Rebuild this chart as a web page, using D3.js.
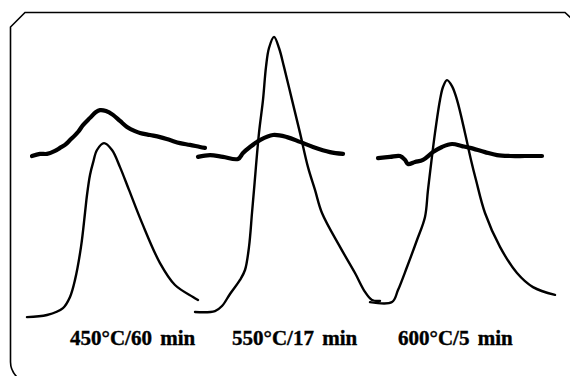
<!DOCTYPE html>
<html>
<head>
<meta charset="utf-8">
<script src="https://cdn.jsdelivr.net/npm/d3@7"></script>
<style>
  body { margin: 0; background: #fff; }
  .thin  { fill: none; stroke: #000; stroke-width: 2.4; stroke-linejoin: round; stroke-linecap: round; }
  .thick { fill: none; stroke: #000; stroke-width: 4.2; stroke-linejoin: round; stroke-linecap: round; }
  .label { font-family: "Liberation Serif", "DejaVu Serif", serif; font-weight: bold; font-size: 21px;
           word-spacing: 3px; stroke: #000; stroke-width: 0.4px; }
</style>
</head>
<body>
<div id="app"></div>
<script>
const width  = 570,
      height = 376;

/* 标签 */
const labels = ["450\u00b0C/60 min", "550\u00b0C/17 min", "600\u00b0C/5 min"],
      labelX = [14.0, 46.4, 79.6];

/* 细线: 峰 */
const thin450 = [[5.4,4.3],[9.4,5.0],[12.6,7.3],[14.0,11.0],[15.0,16.7],[16.2,27.7],[17.0,39.0],
  [17.4,45.0],[18.0,51.7],[18.6,55.7],[19.4,60.0],[20.8,62.3],[22.4,60.0],[24.0,54.3],[25.8,46.7],
  [28.4,35.7],[32.0,22.3],[35.0,15.0],[38.6,11.0],[39.6,10.0]];
const thin550 = [[39.0,6.0],[43.0,6.3],[44.4,8.0],[46.0,12.0],[48.0,16.7],[49.0,20.0],[49.8,27.7],
  [50.4,39.0],[50.8,46.7],[51.8,65.7],[52.6,76.7],[53.2,87.7],[53.8,94.0],[54.8,97.7],[55.8,94.0],
  [56.8,87.7],[58.4,76.7],[60.0,65.7],[61.6,54.3],[63.0,46.7],[64.4,39.0],[68.0,27.7],[71.0,19.0],
  [73.0,12.7],[74.4,10.0],[76.0,9.7]];
const thin600 = [[74.0,9.3],[78.4,9.3],[79.6,13.3],[81.4,21.0],[83.4,30.0],[85.0,37.7],[85.6,46.7],
  [87.0,65.7],[88.0,76.7],[88.6,81.0],[89.4,83.3],[90.4,81.3],[91.4,76.7],[93.0,65.7],[94.2,56.7],
  [95.2,50.0],[97.0,39.0],[100.0,27.7],[103.4,19.0],[106.6,14.3],[111.0,11.7]];

/* 粗线 */
const thick450 = [[6.4,58.0],[8.0,58.7],[9.4,58.7],[11.0,59.7],[12.0,60.7],[13.0,61.7],[14.0,63.3],
  [15.6,66.0],[16.6,68.3],[18.0,70.7],[19.2,72.7],[20.0,73.3],[21.2,73.0],[22.6,71.7],[24.0,69.7],
  [25.4,67.7],[27.0,66.3],[28.0,65.7],[30.0,65.0],[32.0,64.3],[34.0,63.3],[36.0,62.3],[38.0,61.7],
  [40.0,61.0],[41.0,60.7]];
const thick550 = [[39.6,57.7],[42.0,58.3],[44.6,57.7],[47.6,57.0],[48.6,59.0],[50.0,61.0],[52.0,63.3],
  [54.6,65.0],[57.4,64.3],[60.0,62.7],[62.6,61.0],[66.0,59.3],[68.6,58.7]];
const thick600 = [[75.6,57.3],[78.0,57.7],[80.0,58.0],[81.0,56.7],[81.6,55.3],[83.0,56.0],[84.6,56.7],
  [86.6,59.3],[88.4,61.0],[90.4,62.0],[92.4,61.3],[94.0,60.7],[97.0,59.3],[99.4,58.3],[102.0,58.0],
  [105.0,58.0],[108.4,58.0]];

const xScale = d3.scaleLinear().domain([0, 114]).range([0, width]),
      yScale = d3.scaleLinear().domain([0, 110]).range([330, 0]);

const svg = d3.select("#app")
.append("svg")
  .attr("width", width)
  .attr("height", height);

/* 边框 */
svg.append("path")
  .attr("d", "M18,378 Q10.5,371 10.5,362 L10.5,27 L25,12.5 L565,12.5 L572,19")
  .attr("fill", "none")
  .attr("stroke", "#000")
  .attr("stroke-width", 1.6);

const line = d3.line()
.x(d => xScale(d[0]))
.y(d => yScale(d[1]))
.curve(d3.curveCatmullRom.alpha(0.5));

[thin450, thin550, thin600].forEach(s => {
  svg.append("path").datum(s).attr("class", "thin").attr("d", line);
});
[thick450, thick550, thick600].forEach(s => {
  svg.append("path").datum(s).attr("class", "thick").attr("d", line);
});

svg.selectAll(".label")
  .data(labels)
.enter()
.append("text")
  .attr("class", "label")
  .attr("x", (d, i) => xScale(labelX[i]))
  .attr("y", yScale(-5))
  .text(d => d);
</script>
</body>
</html>
